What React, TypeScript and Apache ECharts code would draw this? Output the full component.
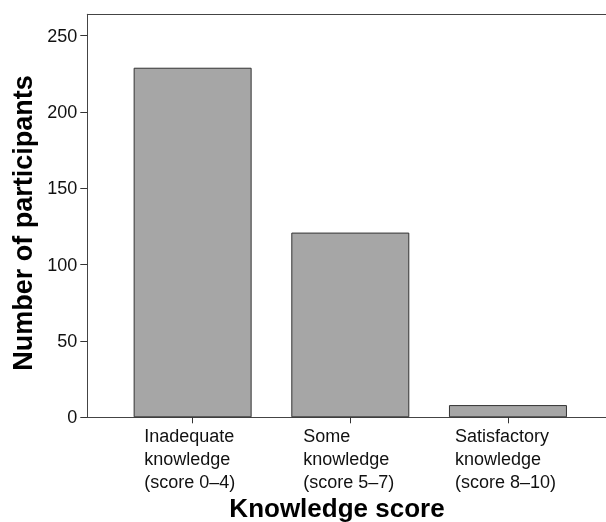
import React, { useEffect, useRef } from "react";
import * as echarts from "echarts";

const categories = [
  "Inadequate\nknowledge\n(score 0–4)",
  "Some\nknowledge\n(score 5–7)",
  "Satisfactory\nknowledge\n(score 8–10)",
];
const participants = [229, 121, 8];
const yTicks = [0, 50, 100, 150, 200, 250];
const yMin = 0;
const yMax = 264;
const xTitle = "Knowledge score";
const yTitle = "Number of participants";

export default function App() {
  const ref = useRef<HTMLDivElement>(null);
  useEffect(() => {
    const chart = echarts.init(ref.current!, null, { renderer: "svg" });
    const font = '"Liberation Sans", Arial, Helvetica, sans-serif';
    const frameLine = { show: true, lineStyle: { color: "#444", width: 1 } };
    const labelWidths = [97, 94, 106];
    const rich: Record<string, any> = {};
    labelWidths.forEach((w, i) => {
      rich["l" + i] = {
        width: w,
        align: "left",
        fontSize: 18,
        lineHeight: 23,
        fontFamily: font,
        color: "#111",
      };
    });
    chart.setOption({
      animation: false,
      grid: [
        { left: 113.8, top: 14.3, width: 473, height: 403 },
        { left: 87.3, top: 14.3, width: 580, height: 403 },
      ],
      xAxis: [
        {
          type: "category",
          gridIndex: 0,
          data: categories,
          axisLine: { show: false },
          axisTick: {
            show: true,
            alignWithLabel: true,
            length: 6,
            lineStyle: { color: "#333", width: 1 },
          },
          axisLabel: {
            margin: 7,
            interval: 0,
            fontSize: 18,
            lineHeight: 23,
            fontFamily: font,
            color: "#111",
            formatter: (v: string, i: number) => `{l${i}|${v}}`,
            rich,
          },
        },
        {
          type: "value",
          gridIndex: 1,
          position: "bottom",
          min: 0,
          max: 1,
          axisLine: frameLine,
          axisTick: { show: false },
          axisLabel: { show: false },
          splitLine: { show: false },
        },
        {
          type: "value",
          gridIndex: 1,
          position: "top",
          min: 0,
          max: 1,
          axisLine: frameLine,
          axisTick: { show: false },
          axisLabel: { show: false },
          splitLine: { show: false },
        },
      ],
      yAxis: [
        { type: "value", gridIndex: 0, min: yMin, max: yMax, show: false },
        {
          type: "value",
          gridIndex: 1,
          min: yMin,
          max: yMax,
          axisLine: frameLine,
          splitLine: { show: false },
          axisTick: {
            show: true,
            length: 7,
            customValues: yTicks,
            lineStyle: { color: "#333", width: 1 },
          },
          axisLabel: {
            margin: 10,
            customValues: yTicks,
            fontSize: 18,
            fontFamily: font,
            color: "#111",
          },
        },
      ],
      series: [
        {
          type: "bar",
          xAxisIndex: 0,
          yAxisIndex: 0,
          data: participants,
          barWidth: 118,
          itemStyle: { color: "#a6a6a6", borderColor: "#333", borderWidth: 1 },
        },
      ],
      graphic: [
        {
          type: "text",
          x: 337,
          y: 508,
          style: {
            text: xTitle,
            align: "center",
            verticalAlign: "middle",
            fontSize: 26,
            fontWeight: "bold",
            fontFamily: font,
            fill: "#000",
          },
        },
        {
          type: "text",
          x: 23,
          y: 223,
          rotation: Math.PI / 2,
          style: {
            text: yTitle,
            align: "center",
            verticalAlign: "middle",
            fontSize: 27,
            fontWeight: "bold",
            fontFamily: font,
            fill: "#000",
          },
        },
      ],
    });
    return () => chart.dispose();
  }, []);
  return (
    <div
      ref={ref}
      style={{ position: "fixed", left: 0, top: 0, width: 606, height: 522 }}
    />
  );
}
